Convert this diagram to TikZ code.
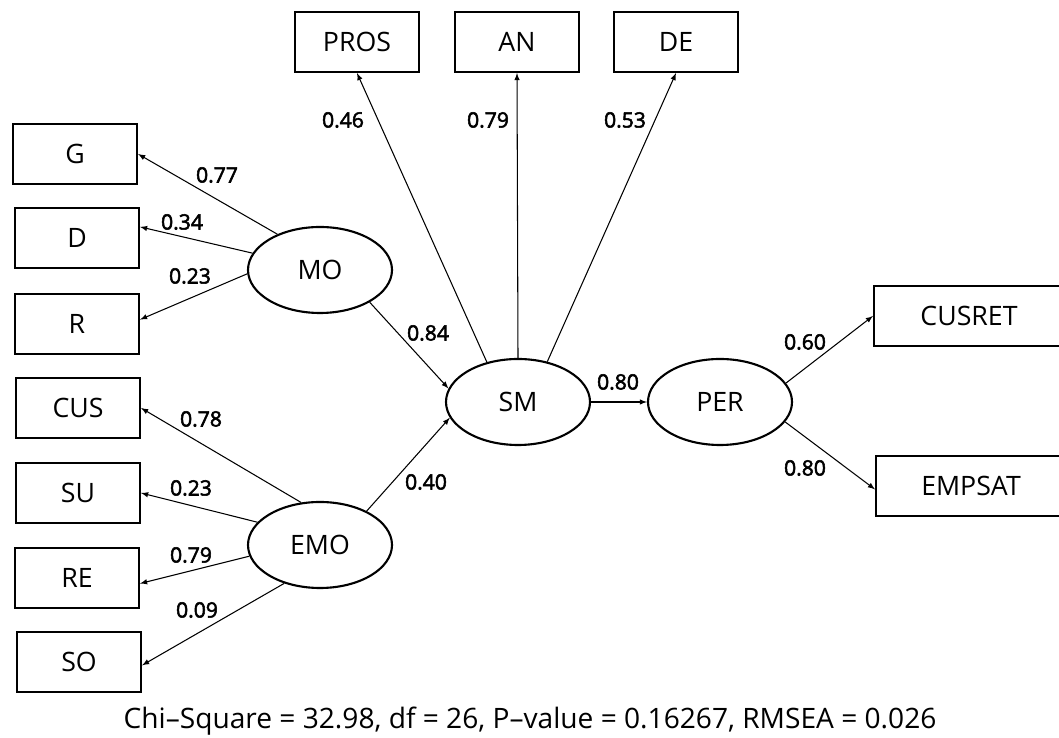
\documentclass[tikz,border=0pt]{standalone}
\usepackage{fontspec}
\setmainfont{Open Sans}
\newfontfamily\coeffont{Open Sans}[FakeBold=2.5]
\usepackage{tikz}
\tikzset{>=latex}
\usetikzlibrary{shapes.geometric}
\tikzstyle{obs}=[draw,line width=1.5pt,rectangle,minimum width=3.1cm,minimum height=1.5cm,inner sep=0pt,font=\fontsize{19}{22}\selectfont]
\tikzstyle{wide obs}=[obs,minimum width=4.75cm]
\tikzstyle{latent}=[draw,line width=1.5pt,ellipse,minimum width=3.6cm,minimum height=2.15cm,inner sep=0pt,font=\fontsize{19}{22}\selectfont]
\tikzstyle{load}=[->,line width=0.75pt]
\tikzstyle{coef}=[inner sep=0pt,font=\coeffont\fontsize{15}{18}\selectfont]

\begin{document}
\begin{tikzpicture}
  \useasboundingbox (0,0) rectangle (26.475,18.45);
  \clip (0,0) rectangle (26.475,18.45);

  % LATENT VARIABLES
  \node[latent] (MO)  at ( 8.0, 11.7)  {MO};
  \node[latent] (EMO) at ( 8.0, 4.825) {EMO};
  \node[latent] (SM)  at (12.95, 8.4)  {SM};
  \node[latent] (PER) at (18.0, 8.4)   {PER};

  % INDICATORS
  \node[obs] (G)   at (1.875,14.6)  {G};
  \node[obs] (D)   at (1.925,12.5)  {D};
  \node[obs] (R)   at (1.925,10.35) {R};
  \node[obs] (CUS) at (1.95, 8.25)  {CUS};
  \node[obs] (SU)  at (1.95, 6.125) {SU};
  \node[obs] (RE)  at (1.925,4.0)   {RE};
  \node[obs] (SO)  at (1.975,1.9)   {SO};
  \node[obs] (PROS) at ( 8.925,17.4) {PROS};
  \node[obs] (AN)   at (12.925,17.4) {AN};
  \node[obs] (DE)   at (16.9, 17.4)  {DE};
  \node[wide obs] (CUSRET) at (24.225,10.55) {CUSRET};
  \node[wide obs] (EMPSAT) at (24.275,6.3)   {EMPSAT};

  % PATHS
  \draw[load] (MO.140) -- (G.east);
  \draw[load] (MO.166) -- (D.10);
  \draw[load] (MO.183) -- (R.4);
  \draw[load] (MO.-33) -- (SM.169);
  \draw[load] (EMO.114) -- (CUS.east);
  \draw[load] (EMO.160) -- (SU.east);
  \draw[load] (EMO.189) -- (RE.-5);
  \draw[load] (EMO.227) -- (SO.-3);
  \draw[load] (EMO.36) -- (SM.193);
  \draw[load] (SM.128) -- (PROS.south);
  \draw[load] (SM.north) -- (AN.south);
  \draw[load] (SM.54) -- (DE.south);
  \draw[load] (SM.east) -- (PER.west);
  \draw[load] (PER.16) -- (CUSRET.west);
  \draw[load] (PER.-17) -- (EMPSAT.182);

  % COEFFICIENTS
  \node[coef] (cPROS) at ( 8.575,15.45) {0.46};
  \node[coef] (cAN)   at (12.2,  15.45) {0.79};
  \node[coef] (cDE)   at (15.625,15.45) {0.53};
  \node[coef] (cG)    at ( 5.425,14.075) {0.77};
  \node[coef] (cD)    at ( 4.55, 12.9)  {0.34};
  \node[coef] (cR)    at ( 4.75, 11.55) {0.23};
  \node[coef] (cMO)   at (10.7,  10.125) {0.84};
  \node[coef] (cCUS)  at ( 5.025, 7.975) {0.78};
  \node[coef] (cSU)   at ( 4.775, 6.25) {0.23};
  \node[coef] (cRE)   at ( 4.775, 4.575) {0.79};
  \node[coef] (cSO)   at ( 4.925, 3.2)  {0.09};
  \node[coef] (cEMO)  at (10.65,  6.4)  {0.40};
  \node[coef] (cSM)   at (15.45,  8.9)  {0.80};
  \node[coef] (cRET)  at (20.125, 9.9)  {0.60};
  \node[coef] (cSAT)  at (20.125, 6.75) {0.80};

  % FIT
  \node[anchor=base,inner sep=0pt,font=\fontsize{20}{24}\selectfont] (fit) at (13.25,0.24)
    {Chi--Square = 32.98, df = 26, P--value = 0.16267, RMSEA = 0.026};
\end{tikzpicture}
\end{document}
